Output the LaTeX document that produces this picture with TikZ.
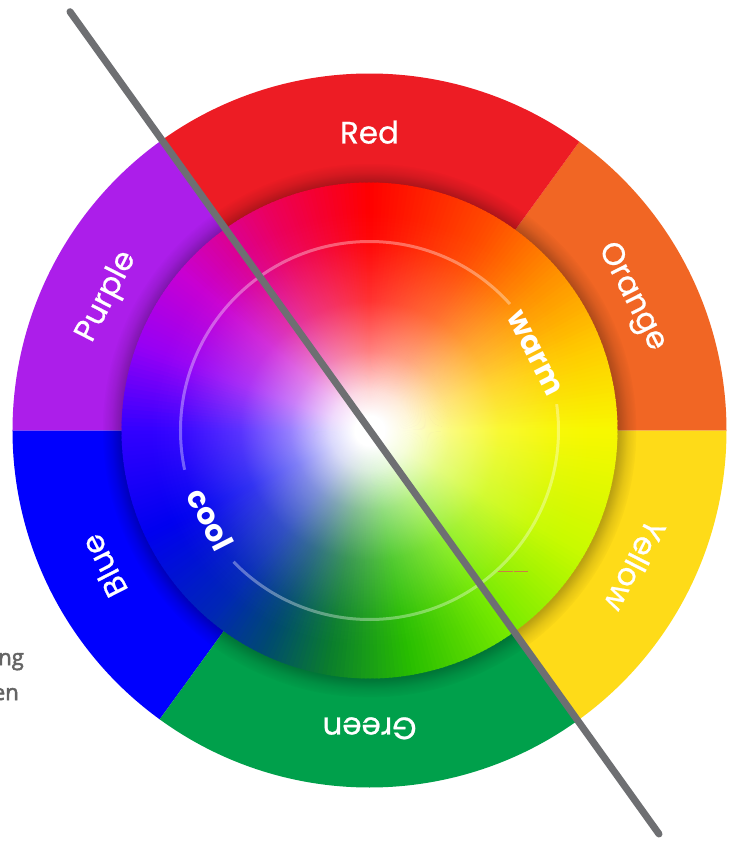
\documentclass[tikz,border=0pt]{standalone}
\usepackage{fontspec}
\setmainfont{Poppins}
\newfontfamily\labelfont{Poppins}[FakeBold=0.7]
\newfontfamily\grayfont{Open Sans}[FakeBold=2.5]
\usetikzlibrary{fadings}

\definecolor{ringred}{RGB}{237,28,36}
\definecolor{ringorange}{RGB}{241,102,36}
\definecolor{ringyellow}{RGB}{254,219,24}
\definecolor{ringgreen}{RGB}{0,160,75}
\definecolor{ringblue}{RGB}{0,0,254}
\definecolor{ringpurple}{RGB}{172,30,234}
\definecolor{linegray}{RGB}{110,111,114}
\definecolor{textgray}{RGB}{100,100,100}
\definecolor{dashorange}{RGB}{205,125,70}

\definecolor{h000}{RGB}{248,248,0}
\definecolor{h020}{RGB}{255,205,0}
\definecolor{h040}{RGB}{255,145,0}
\definecolor{h060}{RGB}{255,75,0}
\definecolor{h090}{RGB}{255,0,0}
\definecolor{h115}{RGB}{235,0,95}
\definecolor{h140}{RGB}{200,0,210}
\definecolor{h160}{RGB}{150,0,245}
\definecolor{h180}{RGB}{50,0,255}
\definecolor{h205}{RGB}{0,0,240}
\definecolor{h230}{RGB}{0,40,180}
\definecolor{h245}{RGB}{0,75,110}
\definecolor{h260}{RGB}{10,125,45}
\definecolor{h280}{RGB}{40,190,0}
\definecolor{h305}{RGB}{120,235,0}
\definecolor{h330}{RGB}{200,250,0}
\definecolor{h360}{RGB}{248,248,0}

% the path's bounding circle corresponds to 25bp
\pgfdeclareradialshading{glowshade}{\pgfpointorigin}{color(0bp)=(black!0); color(1.5bp)=(black!0); color(4bp)=(black!15); color(8bp)=(black!50); color(13bp)=(black!80); color(19bp)=(black!97); color(22bp)=(black!100); color(50bp)=(black!100)}
\pgfdeclarefading{glowfade}{\pgfuseshading{glowshade}}
\pgfdeclareradialshading{shadowshade}{\pgfpointorigin}{color(0bp)=(black!74); color(23.2bp)=(black!74); color(24.1bp)=(black!90); color(25bp)=(black!100); color(50bp)=(black!100)}
\pgfdeclarefading{shadowfade}{\pgfuseshading{shadowshade}}

\tikzset{
  ringlabel/.style={text=white, anchor=base, inner sep=0pt, font=\labelfont\fontsize{31}{31}\selectfont},
  tempword/.style={text=white, anchor=base, inner sep=0pt, font=\bfseries\fontsize{30}{30}\selectfont},
  arcline/.style={draw=white, draw opacity=0.35, line width=3pt},
  graybar/.style={draw=linegray, line width=7pt, line cap=round},
  graytext/.style={text=textgray, inner sep=0pt, anchor=base east, font=\grayfont\fontsize{22}{22}\selectfont},
  dashline/.style={draw=dashorange, line width=1pt}
}

\def\Rout{357}
\def\Rin{248}

\begin{document}
\begin{tikzpicture}[x=1pt,y=1pt]
\useasboundingbox (-369.5,-423.5) rectangle (361.5,430.5);
\fill[white] (-369.5,-423.5) rectangle (361.5,430.5);

% outer ring
\fill[ringorange] (0,0) -- (0:\Rout) arc[start angle=0, end angle=54, radius=\Rout] -- cycle;
\fill[ringred] (0,0) -- (54:\Rout) arc[start angle=54, end angle=126, radius=\Rout] -- cycle;
\fill[ringpurple] (0,0) -- (126:\Rout) arc[start angle=126, end angle=180, radius=\Rout] -- cycle;
\fill[ringblue] (0,0) -- (180:\Rout) arc[start angle=180, end angle=234, radius=\Rout] -- cycle;
\fill[ringgreen] (0,0) -- (234:\Rout) arc[start angle=234, end angle=306, radius=\Rout] -- cycle;
\fill[ringyellow] (0,0) -- (306:\Rout) arc[start angle=306, end angle=360, radius=\Rout] -- cycle;

% shadow of inner disc on ring
\fill[black, path fading=shadowfade] (0,0) circle[radius=267];

% inner colour disc
\foreach \sa/\sb/\ca/\cb in {0/20/h000/h020, 20/40/h020/h040, 40/60/h040/h060, 60/90/h060/h090, 90/115/h090/h115, 115/140/h115/h140, 140/160/h140/h160, 160/180/h160/h180, 180/205/h180/h205, 205/230/h205/h230, 230/245/h230/h245, 245/260/h245/h260, 260/280/h260/h280, 280/305/h280/h305, 305/330/h305/h330, 330/360/h330/h360} {
  \pgfmathtruncatemacro{\n}{(\sb-\sa)}
  \foreach \i in {1,...,\n} {
    \pgfmathsetmacro{\thA}{\sa+(\i-1)}
    \pgfmathsetmacro{\thB}{\thA+1.35}
    \pgfmathsetmacro{\p}{(\i-0.5)/\n*100}
    \colorlet{wc}{\cb!\p!\ca}
    \fill[wc] (0,0) -- (\thA:\Rin) arc[start angle=\thA, end angle=\thB, radius=\Rin] -- cycle;
  }
}
\fill[white, path fading=glowfade] (0,0) circle[radius=\Rin];

% thin inner circle
\draw[arcline] (42:189) arc[start angle=42, end angle=192, radius=189];
\draw[arcline] (224:189) arc[start angle=224, end angle=368, radius=189];

% ring labels
\node[ringlabel, rotate=0] (lblred) at (90:287) {Red};
\node[ringlabel, rotate=-63] (lblorange) at (27:287) {Orange};
\node[ringlabel, rotate=-117] (lblyellow) at (-27:287) {Yellow};
\node[ringlabel, rotate=180] (lblgreen) at (-90:287) {Green};
\node[ringlabel, rotate=117] (lblblue) at (-153:287) {Blue};
\node[ringlabel, rotate=63] (lblpurple) at (153:287) {Purple};

% warm / cool
\node[tempword, rotate=-63] (warm) at (25:174) {warm};
\node[tempword, rotate=-63] (cool) at (209:193) {cool};

% diagonal bar
\coordinate (lineA) at (-299.5,418.8);
\coordinate (lineB) at (289.5,-403.5);
\draw[graybar] (lineA) -- (lineB);

% small orange marks
\coordinate (dashA) at (128,-141);
\coordinate (dashB) at (143,-141);
\coordinate (dashC) at (144.5,-141);
\coordinate (dashD) at (158.5,-141);
\draw[dashline] (dashA) -- (dashB);
\draw[dashline] (dashC) -- (dashD);

% cut-off text at left
\node[graytext] (txtng) at (-345.5,-234.5) {ng};
\node[graytext] (txten) at (-350.5,-269.5) {en};
\end{tikzpicture}
\end{document}
